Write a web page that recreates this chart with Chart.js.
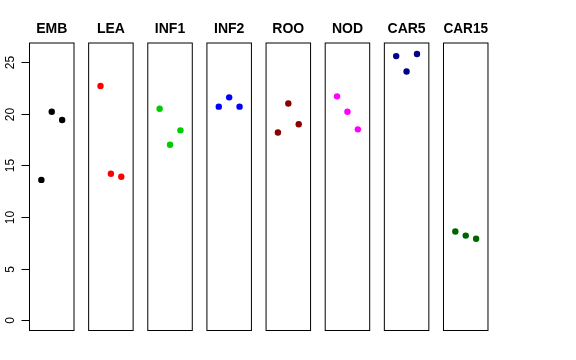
<!DOCTYPE html>
<html>
<head>
  <title>Tissue panels</title>
  <script src="https://cdn.jsdelivr.net/npm/chart.js"></script>
  <style>
    body {
      margin: 0;
      padding: 0;
      background: #ffffff;
      font-family: "Liberation Sans", Arial, sans-serif;
    }
    #wrap {
      position: relative;
      width: 576px;
      height: 360px;
    }
    #wrap canvas {
      position: absolute;
      top: 0;
    }
  </style>
</head>
<body>
  <div id="wrap"></div>
  <script>
    // panel names and point colours
    const tissues = ['EMB', 'LEA', 'INF1', 'INF2', 'ROO', 'NOD', 'CAR5', 'CAR15'];
    const colors = ['#000000', '#ff0000', '#00cd00', '#0000ff', '#8b0000', '#ff00ff', '#00008b', '#006400'];

    // three replicate values per panel
    const emb   = [13.6, 20.2, 19.4];
    const lea   = [22.7, 14.2, 13.9];
    const inf1  = [20.5, 17.0, 18.4];
    const inf2  = [20.7, 21.6, 20.7];
    const roo   = [18.2, 21.0, 19.0];
    const nod   = [21.7, 20.2, 18.5];
    const car5  = [25.6, 24.1, 25.8];
    const car15 = [8.6, 8.2, 7.9];
    const values = [emb, lea, inf1, inf2, roo, nod, car5, car15];

    const yTicks = [0, 5, 10, 15, 20, 25];

    // draws the panel box
    const boxPlugin = {
      id: 'box',
      afterDraw(chart) {
        const a = chart.chartArea;
        const c = chart.ctx;
        c.save();
        c.strokeStyle = '#000';
        c.lineWidth = 1;
        c.strokeRect(a.left, a.top, a.right - a.left, a.bottom - a.top);
        c.restore();
      }
    };

    // R style left axis with vertical labels (first panel only)
    const yAxisPlugin = {
      id: 'raxis',
      afterDraw(chart) {
        const a = chart.chartArea;
        const y = chart.scales.y;
        const c = chart.ctx;
        c.save();
        c.strokeStyle = '#000';
        c.fillStyle = '#000';
        c.lineWidth = 1;
        c.font = '12px "Liberation Sans", Arial, sans-serif';
        c.textAlign = 'center';
        c.textBaseline = 'middle';
        yTicks.forEach(v => {
          const py = Math.round(y.getPixelForValue(v)) + 0.5;
          c.beginPath();
          c.moveTo(a.left - 8, py);
          c.lineTo(a.left, py);
          c.stroke();
          c.save();
          c.translate(a.left - 19, py);
          c.rotate(-Math.PI / 2);
          c.fillText(String(v), 0, 0);
          c.restore();
        });
        c.restore();
      }
    };

    const wrap = document.getElementById('wrap');
    const pitch = 59.14;
    const firstLeft = 29.5;
    const panelW = 44.5;

    tissues.forEach((name, i) => {
      const panelLeft = firstLeft + i * pitch;
      const canvasLeft = i === 0 ? 0 : Math.floor(panelLeft) - 8;
      const padLeft = panelLeft - canvasLeft;
      const canvasW = Math.ceil(padLeft + panelW + 8);
      const padRight = canvasW - padLeft - panelW;

      const cv = document.createElement('canvas');
      cv.width = canvasW;
      cv.height = 360;
      cv.style.left = canvasLeft + 'px';
      cv.style.width = canvasW + 'px';
      cv.style.height = '360px';
      wrap.appendChild(cv);

      const pts = values[i].map((v, k) => ({ x: k + 1, y: v }));

      new Chart(cv.getContext('2d'), {
        type: 'scatter',
        data: {
          datasets: [{
            data: pts,
            backgroundColor: colors[i],
            borderColor: colors[i],
            borderWidth: 0,
            pointRadius: 3.2,
            pointHoverRadius: 3.2
          }]
        },
        options: {
          responsive: false,
          animation: false,
          events: [],
          layout: {
            padding: { left: padLeft, right: padRight, top: 0, bottom: 29.5 }
          },
          scales: {
            x: { display: false, min: -0.14, max: 4.14 },
            y: { display: false, min: -1.0, max: 26.87 }
          },
          plugins: {
            legend: { display: false },
            tooltip: { enabled: false },
            title: {
              display: true,
              text: name,
              color: '#000',
              font: { family: '"Liberation Sans", Arial, sans-serif', size: 14, weight: 'bold', lineHeight: 1.2 },
              padding: { top: 20.6, bottom: 5.6 }
            }
          }
        },
        plugins: i === 0 ? [boxPlugin, yAxisPlugin] : [boxPlugin]
      });
    });
  </script>
</body>
</html>
